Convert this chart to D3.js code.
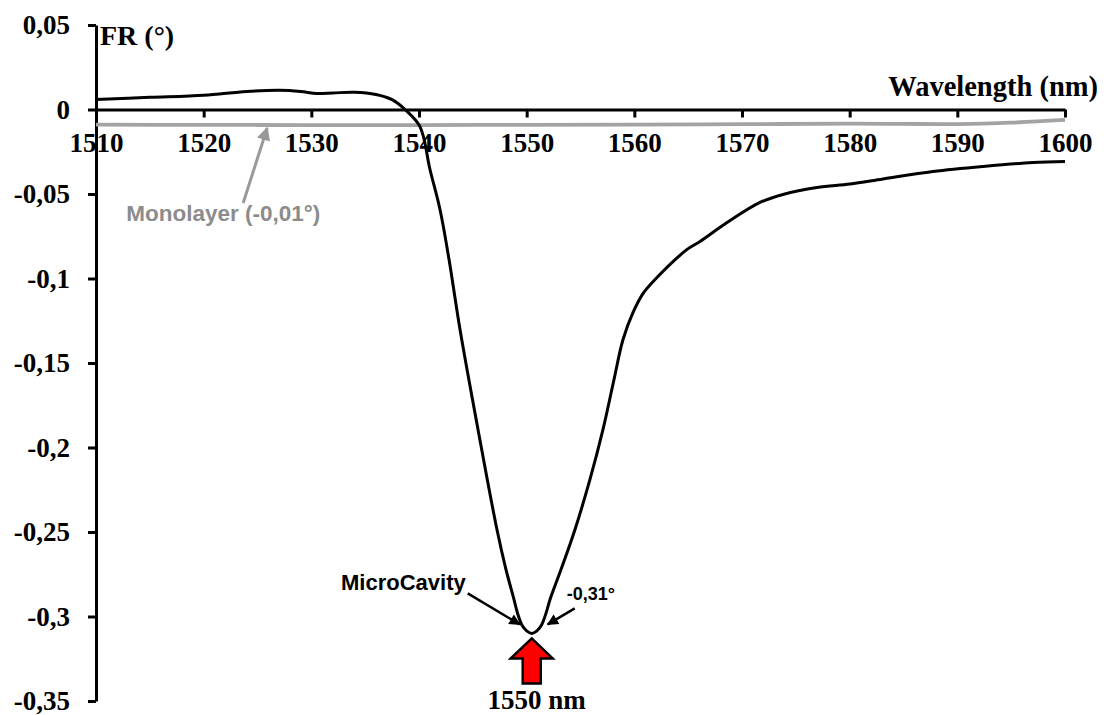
<!DOCTYPE html>
<html>
<head>
<meta charset="utf-8">
<script src="https://cdn.jsdelivr.net/npm/d3@7"></script>
<style>
  body { margin: 0; background: #fff; }
  svg { display: block; }
</style>
</head>
<body>
<svg id="chart" width="1106" height="715"></svg>
<script>
// Axis ticks
const wavelengthTicks = [1510, 1520, 1530, 1540, 1550, 1560, 1570, 1580, 1590, 1600];
const frTicks = [0.05, 0, -0.05, -0.1, -0.15, -0.2, -0.25, -0.3, -0.35];
const frTickLabels = ["0,05", "0", "-0,05", "-0,1", "-0,15", "-0,2", "-0,25", "-0,3", "-0,35"];

// Faraday rotation of the microcavity (degrees) vs wavelength (nm)
const microWl = [1510, 1515, 1520, 1524, 1527, 1529, 1530.5, 1532, 1534, 1536, 1537.5, 1538.7,
  1540.09, 1541.02, 1541.95, 1542.79, 1543.81, 1545.48, 1547.24, 1548.08, 1548.82, 1549.15, 1549.57, 1550.0, 1550.47,
  1550.95, 1551.37, 1551.8, 1552.17, 1553.19, 1554.49, 1555.88, 1557.09, 1558.11, 1558.95, 1559.88, 1560.8, 1561.92,
  1564.9, 1566.1, 1568.61, 1571.67, 1573.81, 1576.97, 1580.03, 1583.1, 1587.74, 1592.39, 1597.03, 1600];
const microFr = [0.0059, 0.0072, 0.0085, 0.0107, 0.0114, 0.0107, 0.0095, 0.0098, 0.0102, 0.0089, 0.0058, 0.0,
  -0.0101, -0.0355, -0.0592, -0.0888, -0.1302, -0.1893, -0.2485, -0.2722, -0.2899, -0.298, -0.3052, -0.3085, -0.31,
  -0.3085, -0.3052, -0.298, -0.2899, -0.2722, -0.2485, -0.2189, -0.1893, -0.1598, -0.1361, -0.1201, -0.1089, -0.1006,
  -0.0828, -0.0781, -0.0669, -0.0550, -0.0503, -0.0462, -0.0441, -0.0411, -0.0367, -0.0337, -0.0314, -0.0308];

// Faraday rotation of the bare monolayer (degrees)
const monoWl = [1510, 1520, 1530, 1540, 1550, 1560, 1570, 1580, 1585, 1590, 1595, 1600];
const monoFr = [-0.0090, -0.0091, -0.0092, -0.0092, -0.0091, -0.0090, -0.0087, -0.0084, -0.0085, -0.0086, -0.0078, -0.0062];

// Annotation texts
const microLabel = "MicroCavity";
const peakLabel = "-0,31°";
const monoLabel = "Monolayer (-0,01°)";
const resonanceLabel = "1550 nm";
const monoPointerWl = 1525.9;

const svg = d3.select("#chart");
const serif = "'Liberation Serif', 'Times New Roman', serif";
const sans = "'Liberation Sans', Arial, sans-serif";

const x = d3.scaleLinear().domain([1510, 1600]).range([96, 1065]);
const y = d3.scaleLinear().domain([0.05, -0.35]).range([25, 701]);

// Arrow head markers
const defs = svg.append("defs");
function marker(id, color) {
  defs.append("marker")
    .attr("id", id)
    .attr("viewBox", "0 0 10 10")
    .attr("refX", 9).attr("refY", 5)
    .attr("markerWidth", 5).attr("markerHeight", 4.5)
    .attr("markerUnits", "strokeWidth")
    .attr("orient", "auto")
    .append("path").attr("d", "M0,0 L10,5 L0,10 Z").attr("fill", color);
}
marker("headBlack", "#000");
marker("headGray", "#999");

// Y axis
const yAxis = svg.append("g")
  .attr("transform", `translate(${x(1510)},0)`)
  .call(d3.axisLeft(y).tickValues(frTicks).tickSize(8).tickSizeOuter(0).tickPadding(18)
    .tickFormat((d, i) => frTickLabels[i]));

// X axis at FR = 0
const xAxis = svg.append("g")
  .attr("transform", `translate(0,${y(0)})`)
  .call(d3.axisBottom(x).tickValues(wavelengthTicks).tickSize(8).tickSizeOuter(0).tickPadding(15)
    .tickFormat(d3.format("d")));

[yAxis, xAxis].forEach(g => {
  g.selectAll(".domain, .tick line").attr("stroke", "#000").attr("stroke-width", 3);
  g.selectAll("text")
    .attr("fill", "#000")
    .style("font-family", serif)
    .style("font-weight", "bold")
    .style("font-size", "27px");
});

// Axis titles
svg.append("text")
  .attr("x", x(1510) + 4).attr("y", 45)
  .style("font-family", serif).style("font-weight", "bold").style("font-size", "28px")
  .text("FR (°)");
svg.append("text")
  .attr("x", 1098).attr("y", 96)
  .attr("text-anchor", "end")
  .style("font-family", serif).style("font-weight", "bold").style("font-size", "28.5px")
  .text("Wavelength (nm)");

// Curves
const line = d3.line()
  .x(d => x(d[0]))
  .y(d => y(d[1]))
  .curve(d3.curveCatmullRom.alpha(0.5));

svg.append("path")
  .datum(monoWl.map((w, i) => [w, monoFr[i]]))
  .attr("d", line)
  .attr("fill", "none")
  .attr("stroke", "#a3a3a3")
  .attr("stroke-width", 3.8);

svg.append("path")
  .datum(microWl.map((w, i) => [w, microFr[i]]))
  .attr("d", line)
  .attr("fill", "none")
  .attr("stroke", "#000")
  .attr("stroke-width", 3);

// Resonance minimum
const minIdx = d3.minIndex(microFr);
const mx = x(microWl[minIdx]);
const my = y(microFr[minIdx]);

// MicroCavity pointer
svg.append("line")
  .attr("x1", mx - 64).attr("y1", my - 40)
  .attr("x2", mx - 12).attr("y2", my - 9)
  .attr("stroke", "#000").attr("stroke-width", 2.5)
  .attr("marker-end", "url(#headBlack)");
svg.append("text")
  .attr("x", mx - 66).attr("y", my - 43)
  .attr("text-anchor", "end")
  .style("font-family", sans).style("font-weight", "bold").style("font-size", "22px")
  .text(microLabel);

// Peak value pointer
svg.append("line")
  .attr("x1", mx + 43).attr("y1", my - 25)
  .attr("x2", mx + 16).attr("y2", my - 9)
  .attr("stroke", "#000").attr("stroke-width", 2.5)
  .attr("marker-end", "url(#headBlack)");
svg.append("text")
  .attr("x", mx + 35).attr("y", my - 33)
  .style("font-family", sans).style("font-weight", "bold").style("font-size", "18px")
  .text(peakLabel);

// Red upward arrow marking the resonance
const tipY = my + 5;
const arrowPts = [
  [mx, tipY], [mx + 21, tipY + 20], [mx + 9, tipY + 20], [mx + 9, tipY + 45],
  [mx - 9, tipY + 45], [mx - 9, tipY + 20], [mx - 21, tipY + 20]
];
svg.append("polygon")
  .attr("points", arrowPts.map(p => p.join(",")).join(" "))
  .attr("fill", "#ff0000")
  .attr("stroke", "#000")
  .attr("stroke-width", 2.5)
  .attr("stroke-linejoin", "miter");
svg.append("text")
  .attr("x", mx + 5).attr("y", 709)
  .attr("text-anchor", "middle")
  .style("font-family", serif).style("font-weight", "bold").style("font-size", "27px")
  .text(resonanceLabel);

// Monolayer pointer
const monoVal = monoFr[1] + (monoFr[2] - monoFr[1]) * (monoPointerWl - 1520) / 10;
const px = x(monoPointerWl);
const py = y(monoVal) + 3;
svg.append("line")
  .attr("x1", px - 24).attr("y1", py + 75)
  .attr("x2", px).attr("y2", py)
  .attr("stroke", "#999").attr("stroke-width", 3)
  .attr("marker-end", "url(#headGray)");
svg.append("text")
  .attr("x", px - 44).attr("y", py + 93)
  .attr("text-anchor", "middle")
  .attr("fill", "#8c8c8c")
  .style("font-family", sans).style("font-weight", "bold").style("font-size", "22.5px")
  .text(monoLabel);
</script>
</body>
</html>
